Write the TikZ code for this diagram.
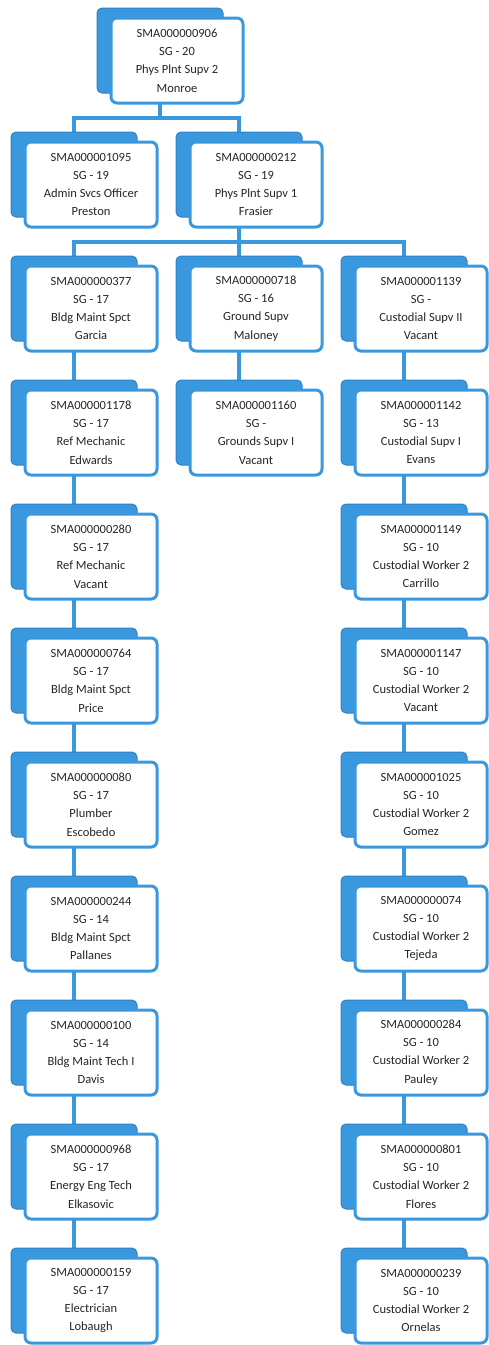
\documentclass[tikz,border=0pt]{standalone}
\usepackage{fontspec}
\setmainfont{Carlito}
\usepackage{tikz}
\usetikzlibrary{calc,backgrounds}
\definecolor{orgBlue}{HTML}{3A98DF}
\definecolor{orgEdge}{HTML}{2C82C6}
\definecolor{orgText}{HTML}{262626}

\begin{document}
\begin{tikzpicture}[x=1pt, y=1pt,
  font=\fontsize{12.5}{18.3}\selectfont,
  backcard/.style={draw=orgEdge, line width=1pt, fill=orgBlue, rounded corners=5pt, minimum width=126pt, minimum height=85pt, inner sep=0pt},
  card/.style={draw=orgBlue, line width=3pt, fill=white, rounded corners=6pt, minimum width=132pt, minimum height=85pt, inner sep=0pt, align=center, text=orgText},
  link/.style={draw=orgBlue, line width=4.5pt}]
\useasboundingbox (0,0) rectangle (489,-1345);

% positions
\foreach \id/\x/\y/\txt in {
  906/177/-60.5/SMA000000906\\SG - 20\\Phys Plnt Supv 2\\Monroe,
  1095/91/-184.5/SMA000001095\\SG - 19\\Admin Svcs Officer\\Preston,
  212/256/-184.5/SMA000000212\\SG - 19\\Phys Plnt Supv 1\\Frasier,
  377/91/-308.5/SMA000000377\\SG - 17\\Bldg Maint Spct\\Garcia,
  718/256/-308.5/SMA000000718\\SG - 16\\Ground Supv\\Maloney,
  1139/421/-308.5/SMA000001139\\SG - \\Custodial Supv II\\Vacant,
  1178/91/-432.5/SMA000001178\\SG - 17\\Ref Mechanic\\Edwards,
  1160/256/-432.5/SMA000001160\\SG - \\Grounds Supv I\\Vacant,
  1142/421/-432.5/SMA000001142\\SG - 13\\Custodial Supv I\\Evans,
  280/91/-556.5/SMA000000280\\SG - 17\\Ref Mechanic\\Vacant,
  1149/421/-556.5/SMA000001149\\SG - 10\\Custodial Worker 2\\Carrillo,
  764/91/-680.5/SMA000000764\\SG - 17\\Bldg Maint Spct\\Price,
  1147/421/-680.5/SMA000001147\\SG - 10\\Custodial Worker 2\\Vacant,
  080/91/-804.5/SMA000000080\\SG - 17\\Plumber\\Escobedo,
  1025/421/-804.5/SMA000001025\\SG - 10\\Custodial Worker 2\\Gomez,
  244/91/-928.5/SMA000000244\\SG - 14\\Bldg Maint Spct\\Pallanes,
  074/421/-928.5/SMA000000074\\SG - 10\\Custodial Worker 2\\Tejeda,
  100/91/-1052.5/SMA000000100\\SG - 14\\Bldg Maint Tech I\\Davis,
  284/421/-1052.5/SMA000000284\\SG - 10\\Custodial Worker 2\\Pauley,
  968/91/-1176.5/SMA000000968\\SG - 17\\Energy Eng Tech\\Elkasovic,
  801/421/-1176.5/SMA000000801\\SG - 10\\Custodial Worker 2\\Flores,
  159/91/-1300.5/SMA000000159\\SG - 17\\Electrician\\Lobaugh,
  239/421/-1300.5/SMA000000239\\SG - 10\\Custodial Worker 2\\Ornelas}{
  \node[backcard] (b\id) at (\x-17,\y+10) {};
  \node[card] (n\id) at (\x,\y) {\txt};
}

% connectors
\begin{scope}[on background layer]
\coordinate (bar1) at ($(b906 |- n906.south)!.5!(b906 |- b1095.north)$);
\draw[link] (b906) -- (bar1);
\draw[link] (b1095) |- (bar1) -| (b212);
\coordinate (bar2) at ($(b212 |- n212.south)!.5!(b212 |- b377.north)$);
\draw[link] (b212) -- (bar2);
\draw[link] (b377) |- (bar2) -| (b1139);
\draw[link] (bar2) -- (b718);
\foreach \a/\b in {377/1178, 1178/280, 280/764, 764/080, 080/244, 244/100, 100/968, 968/159,
  718/1160,
  1139/1142, 1142/1149, 1149/1147, 1147/1025, 1025/074, 074/284, 284/801, 801/239}
  \draw[link] (b\a) -- (b\b);
\end{scope}
\end{tikzpicture}
\end{document}
